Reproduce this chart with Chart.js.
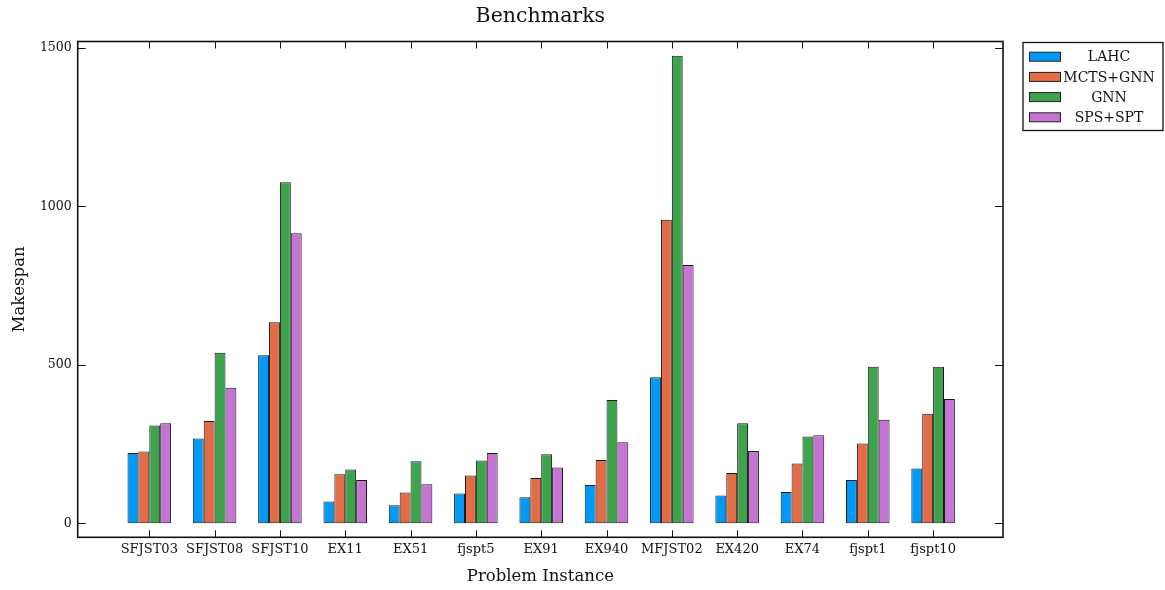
<!DOCTYPE html>
<html>
<head>
<meta charset="utf-8">
<title>Benchmarks</title>
<script src="https://cdn.jsdelivr.net/npm/chart.js@4.4.1/dist/chart.umd.min.js"></script>
<style>
	html, body { margin: 0; padding: 0; background: #fff; }
	#wrap { width: 1165px; height: 590px; position: relative; }
</style>
</head>
<body>
<div id="wrap"><canvas id="bench"></canvas></div>
<script>
// values
const instances = ['SFJST03', 'SFJST08', 'SFJST10', 'EX11', 'EX51', 'fjspt5', 'EX91', 'EX940', 'MFJST02', 'EX420', 'EX74', 'fjspt1', 'fjspt10'];
const lahc    = [222, 268, 530,  69,  57,  94,  82, 121,  461,  88,  99, 137, 173];
const mctsGnn = [227, 323, 634, 155,  97, 151, 143, 200,  958, 159, 189, 252, 346];
const gnn     = [309, 538, 1076, 170, 196, 198, 218, 389, 1475, 316, 274, 494, 494];
const spsSpt  = [316, 428, 915, 137, 123, 222, 176, 256,  815, 228, 278, 327, 392];
const yTicks = [0, 500, 1000, 1500];

const FONT = '"DejaVu Serif", "Liberation Serif", serif';
const INK = '#111';

const toPoints = (arr) => arr.map((v, i) => ({ x: i, y: v }));

const series = [
	{ label: 'LAHC', color: '#0099f7', data: lahc },
	{ label: 'MCTS+GNN', color: '#e26c46', data: mctsGnn },
	{ label: 'GNN', color: '#3fa34d', data: gnn },
	{ label: 'SPS+SPT', color: '#c474d3', data: spsSpt },
];

// box, inward ticks, titles and legend, drawn the way the reference does
const frame = {
	id: 'frame',
	afterDraw(chart) {
		const { ctx, chartArea: a, scales } = chart;
		const x = scales.x, y = scales.y;
		ctx.save();
		ctx.strokeStyle = INK;
		ctx.lineWidth = 1;
		ctx.beginPath();
		x.ticks.forEach(t => {
			const px = Math.round(x.getPixelForValue(t.value)) + 0.5;
			ctx.moveTo(px, a.bottom); ctx.lineTo(px, a.bottom - 7);
			ctx.moveTo(px, a.top); ctx.lineTo(px, a.top + 7);
		});
		y.ticks.forEach(t => {
			const py = Math.round(y.getPixelForValue(t.value)) + 0.5;
			ctx.moveTo(a.left, py); ctx.lineTo(a.left + 8, py);
			ctx.moveTo(a.right, py); ctx.lineTo(a.right - 8, py);
		});
		ctx.stroke();

		ctx.lineWidth = 1.6;
		ctx.strokeRect(a.left, a.top, a.right - a.left, a.bottom - a.top);

		ctx.fillStyle = INK;
		ctx.textAlign = 'center';
		ctx.textBaseline = 'middle';
		ctx.font = '20.5px ' + FONT;
		ctx.fillText('Benchmarks', (a.left + a.right) / 2, 17);
		ctx.font = '16.5px ' + FONT;
		ctx.fillText('Problem Instance', (a.left + a.right) / 2, 577);
		ctx.save();
		ctx.translate(20, (a.top + a.bottom) / 2);
		ctx.rotate(-Math.PI / 2);
		ctx.fillText('Makespan', 0, 0);
		ctx.restore();

		// legend
		const lx = 1023, ly = 42.5, lw = 140, lh = 88;
		ctx.fillStyle = '#fff';
		ctx.fillRect(lx, ly, lw, lh);
		ctx.lineWidth = 1.3;
		ctx.strokeRect(lx, ly, lw, lh);
		ctx.font = '14px ' + FONT;
		chart.data.datasets.forEach((ds, i) => {
			const cy = 56.7 + i * 20.2;
			ctx.fillStyle = ds.backgroundColor;
			ctx.fillRect(1029.5, cy - 4.5, 31, 9);
			ctx.lineWidth = 1;
			ctx.strokeStyle = '#222';
			ctx.strokeRect(1029.5, cy - 4.5, 31, 9);
			ctx.fillStyle = INK;
			ctx.fillText(ds.label, 1109, cy + 1);
		});
		ctx.restore();
	},
};

Chart.defaults.font.family = FONT;
Chart.defaults.color = INK;

new Chart(document.getElementById('bench').getContext('2d'), {
	type: 'bar',
	data: {
		datasets: series.map(s => ({
			label: s.label,
			data: toPoints(s.data),
			backgroundColor: s.color,
			borderColor: '#1a1a1a',
			borderWidth: 1,
			borderSkipped: false,
			barPercentage: 1,
			categoryPercentage: 0.667,
		})),
	},
	options: {
		responsive: true,
		maintainAspectRatio: false,
		devicePixelRatio: 1,
		animation: false,
		layout: { padding: { top: 41.5, right: 162, left: 0, bottom: 0 } },
		plugins: {
			legend: { display: false },
			title: { display: false },
			tooltip: { enabled: false },
		},
		scales: {
			x: {
				type: 'linear',
				min: -1.096,
				max: 13.07,
				offset: false,
				grid: { display: false, drawTicks: false },
				border: { display: false },
				afterBuildTicks: (scale) => { scale.ticks = instances.map((_n, i) => ({ value: i })); },
				afterFit: (scale) => { scale.height = 590 - 537.3; },
				ticks: {
					autoSkip: false,
					maxRotation: 0,
					padding: 5,
					font: { size: 13 },
					callback: (v) => instances[v],
				},
			},
			y: {
				min: -44,
				max: 1520,
				grid: { display: false, drawTicks: false },
				border: { display: false },
				afterBuildTicks: (scale) => { scale.ticks = yTicks.map(v => ({ value: v })); },
				afterFit: (scale) => { scale.width = 77.7; },
				ticks: {
					padding: 6,
					font: { size: 12.5 },
					callback: (v) => String(v),
				},
			},
		},
	},
	plugins: [frame],
});
</script>
</body>
</html>
